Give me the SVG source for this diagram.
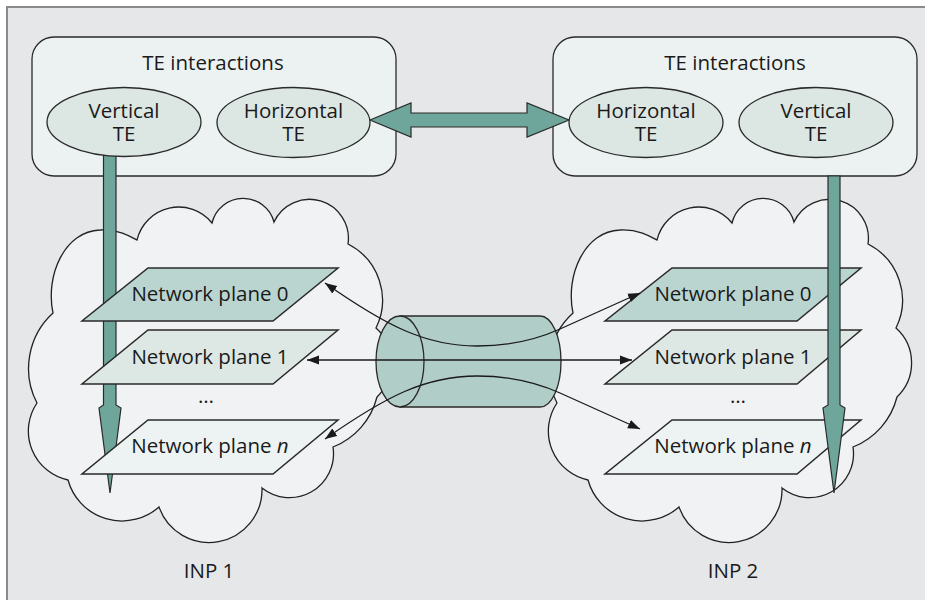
<svg xmlns="http://www.w3.org/2000/svg" width="925" height="600" viewBox="0 0 925 600">
<style>
text{font-family:"Open Sans","Liberation Sans",sans-serif;font-size:20.5px;fill:#1a1a1a;text-anchor:middle}
.box{fill:#ecf2f2;stroke:#2a2a2a;stroke-width:1.3}
.ell{fill:#dce6e3;stroke:#2a2a2a;stroke-width:1.3}
.cloud{fill:#f1f2f4;stroke:#222;stroke-width:1.3}
.teal{fill:#6fa69b;stroke:#2a2a2a;stroke-width:1.2}
.p0{fill:#bad5d0;stroke:#2a2a2a;stroke-width:1.5}
.p1{fill:#dde7e4;stroke:#2a2a2a;stroke-width:1.5}
.pn{fill:#edf3f2;stroke:#2a2a2a;stroke-width:1.5}
.cyl{fill:#b1cdc7;stroke:#2a2a2a;stroke-width:1.3}
.conn{fill:none;stroke:#1a1a1a;stroke-width:1.3;marker-start:url(#ah);marker-end:url(#ah)}
</style>
<defs>
<marker id="ah" markerUnits="userSpaceOnUse" markerWidth="13" markerHeight="10" refX="12" refY="4.5" orient="auto-start-reverse" viewBox="0 0 13 9">
<path d="M0,0 L12,4.5 L0,9 Z" fill="#1a1a1a"/>
</marker>
<path id="cloudShape" d="M137,240 A42.8,42.8 0 0 1 212,223 A32,32 0 0 1 274,222 A39,39 0 0 1 348,244 A63,63 0 0 1 376,328 A47,47 0 0 1 377,397 A73,73 0 0 1 333,447 A44,44 0 0 1 262,488 A53,53 0 0 1 159,507 A56,56 0 0 1 68,480 A50,50 0 0 1 37,403 A75,75 0 0 1 53,313 C45,275 65,231 100,230 C118,229 130,236 137,240 Z"/>
</defs>
<rect x="0" y="0" width="925" height="600" fill="#ffffff"/>
<rect x="7" y="7" width="940" height="620" fill="#e6e7e9" stroke="#8a8a8a" stroke-width="2"/>

<g id="inp1">
<use href="#cloudShape" class="cloud"/>
<text x="209" y="578">INP 1</text>
</g>
<g id="inp2">
<use href="#cloudShape" class="cloud" transform="translate(520,0)"/>
<text x="733" y="578">INP 2</text>
</g>

<g id="tunnel">
<path class="cyl" d="M400,316 L540,316 A21,45.5 0 0 1 540,407 L400,407 Z"/>
<ellipse class="cyl" cx="400" cy="361.5" rx="24" ry="45.5"/>
</g>

<g id="te-left">
<rect class="box" x="32" y="37" width="364" height="139" rx="22"/>
<text x="213" y="70">TE interactions</text>
</g>
<g id="te-right">
<rect class="box" x="553" y="37" width="364" height="139" rx="22"/>
<text x="735" y="70">TE interactions</text>
</g>

<g id="connectors">
<polygon id="horiz-link" class="teal" points="370,120 411,103 411,113 527,113 527,103 569,120 527,137 527,127 411,127 411,137"/>
<polygon id="vert-left" class="teal" points="103.5,150 116,150 116,405 121,408 110,493 99,408 103.5,405"/>
</g>

<g id="left-planes">
<g id="l-plane0"><polygon class="p0" points="148,268 338,268 273,321 82,321"/><text x="210" y="301">Network plane 0</text></g>
<g id="l-plane1"><polygon class="p1" points="148,330 338,330 273,384 82,384"/><text x="210" y="364">Network plane 1</text></g>
<text x="206" y="403">…</text>
<g id="l-planen"><polygon class="pn" points="148,420 338,420 273,474 82,474"/><text x="210" y="453">Network plane <tspan font-style="italic">n</tspan></text></g>
</g>

<g id="left-ellipses">
<g id="l-vertical"><ellipse class="ell" cx="124" cy="122" rx="77" ry="34.5"/><text x="124" y="118">Vertical</text><text x="124" y="141">TE</text></g>
<g id="l-horizontal"><ellipse class="ell" cx="293.5" cy="122.5" rx="76.5" ry="35"/><text x="293.5" y="118">Horizontal</text><text x="293.5" y="141">TE</text></g>
</g>
<g id="right-ellipses">
<g id="r-horizontal"><ellipse class="ell" cx="646" cy="122.5" rx="77" ry="35"/><text x="646" y="118">Horizontal</text><text x="646" y="141">TE</text></g>
<g id="r-vertical"><ellipse class="ell" cx="816" cy="122.5" rx="77" ry="35"/><text x="816" y="118">Vertical</text><text x="816" y="141">TE</text></g>
</g>

<g id="right-planes">
<g id="r-plane0"><polygon class="p0" points="672,268 861,268 797,321 605,321"/><text x="733" y="301">Network plane 0</text></g>
<g id="r-plane1"><polygon class="p1" points="672,330 861,330 797,384 605,384"/><text x="733" y="364">Network plane 1</text></g>
<text x="738" y="403">…</text>
<g id="r-planen"><polygon class="pn" points="672,420 861,420 797,474 605,474"/><text x="733" y="453">Network plane <tspan font-style="italic">n</tspan></text></g>
</g>

<g id="connectors2">
<polygon id="vert-right" class="teal" points="828,176 840,176 840,405 845,408 834,493 823,408 828,405"/>
<path class="conn" d="M325,283 C385,325 425,346 477,346 C515,346 540,338 560,329 L640,293"/>
<path class="conn" d="M307,360 L632,360"/>
<path class="conn" d="M325,439 C385,397 425,376 477,376 C515,376 540,384 560,393 L640,429"/>
</g>
</svg>
